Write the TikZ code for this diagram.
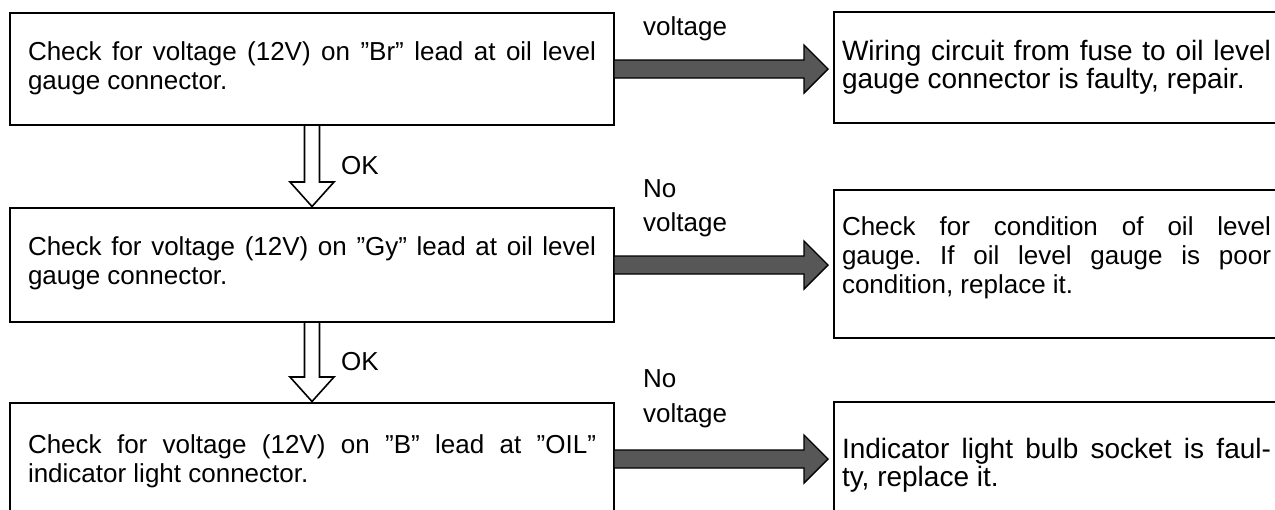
\documentclass[tikz,border=0pt]{standalone}
\usepackage{fontspec}
\setmainfont{Liberation Sans}
\usetikzlibrary{calc}
\hbadness=10000
\frenchspacing
\tikzset{
  boxnode/.style={draw=black, line width=2pt, rectangle, anchor=north west,
    outer sep=0pt, inner ysep=0pt, align=justify,
    font=\fontsize{26}{29}\selectfont},
  leftbox/.style={boxnode, text width=568pt, inner xsep=18pt},
  rightbox/.style={boxnode, text width=429pt, inner xsep=8pt},
  bigtext/.style={font=\fontsize{28}{28.5}\selectfont},
  lbl/.style={anchor=base west, inner sep=0pt, font=\fontsize{26}{30}\selectfont},
  hatcharrow/.style={draw=black, line width=1.4pt, fill=black!66, line join=miter},
  hollowarrow/.style={draw=black, line width=1.6pt, fill=white, line join=miter},
}
\newcommand\hconn[2]{%
  \path[hatcharrow] let \p1=(#1.east), \p2=(#2.west) in
    (\x1,\y1+9pt) -- (\x2-30pt,\y1+9pt) -- (\x2-30pt,\y1+24pt) -- (\x2-6pt,\y1)
    -- (\x2-30pt,\y1-24pt) -- (\x2-30pt,\y1-9pt) -- (\x1,\y1-9pt) -- cycle;}
\newcommand\vconn[2]{%
  \path[hollowarrow] let \p1=(#1.south), \p2=(#2.north) in
    (\x1-7.5pt,\y1-1pt) -- (\x1-7.5pt,\y2+26pt) -- (\x1-22pt,\y2+26pt) -- (\x1,\y2+1.5pt)
    -- (\x1+22pt,\y2+26pt) -- (\x1+7.5pt,\y2+26pt) -- (\x1+7.5pt,\y1-1pt);}
\begin{document}
\begin{tikzpicture}[x=1pt,y=-1pt]
\useasboundingbox (0,0) rectangle (1275,509);
\clip (0,0) rectangle (1275,509);

% left column
\node[leftbox, text height=47pt, text depth=65pt] (L1) at (10,13)
  {Check for voltage (12V) on ''Br'' lead at oil level\linebreak gauge connector.};
\node[leftbox, text height=47pt, text depth=67pt] (L2) at (10,208)
  {Check for voltage (12V) on ''Gy'' lead at oil level\linebreak gauge connector.};
\node[leftbox, text height=50pt, text depth=62pt] (L3) at (10,403)
  {Check for voltage (12V) on ''B'' lead at ''OIL''\linebreak indicator light connector.};

% right column
\node[rightbox, bigtext, text height=48pt, text depth=63pt] (R1) at (834,12)
  {Wiring circuit from fuse to oil level\linebreak gauge connector is faulty, repair.};
\node[rightbox, text height=45pt, text depth=103pt] (R2) at (834,190)
  {Check for condition of oil level\linebreak gauge. If oil level gauge is poor\linebreak condition, replace it.};
\node[rightbox, bigtext, text height=56pt, text depth=56pt] (R3) at (834,402)
  {Indicator light bulb socket is faul-\linebreak ty, replace it.};

% connectors
\hconn{L1}{R1}
\hconn{L2}{R2}
\hconn{L3}{R3}
\vconn{L1}{L2}
\vconn{L2}{L3}

% labels
\node[lbl] (v1) at (643,35) {voltage};
\node[lbl] (n2) at (643,197) {No};
\node[lbl] (v2) at (643,231) {voltage};
\node[lbl] (n3) at (643,387) {No};
\node[lbl] (v3) at (643,422) {voltage};
\node[lbl] (ok1) at (341,174) {OK};
\node[lbl] (ok2) at (341,370) {OK};
\end{tikzpicture}
\end{document}
